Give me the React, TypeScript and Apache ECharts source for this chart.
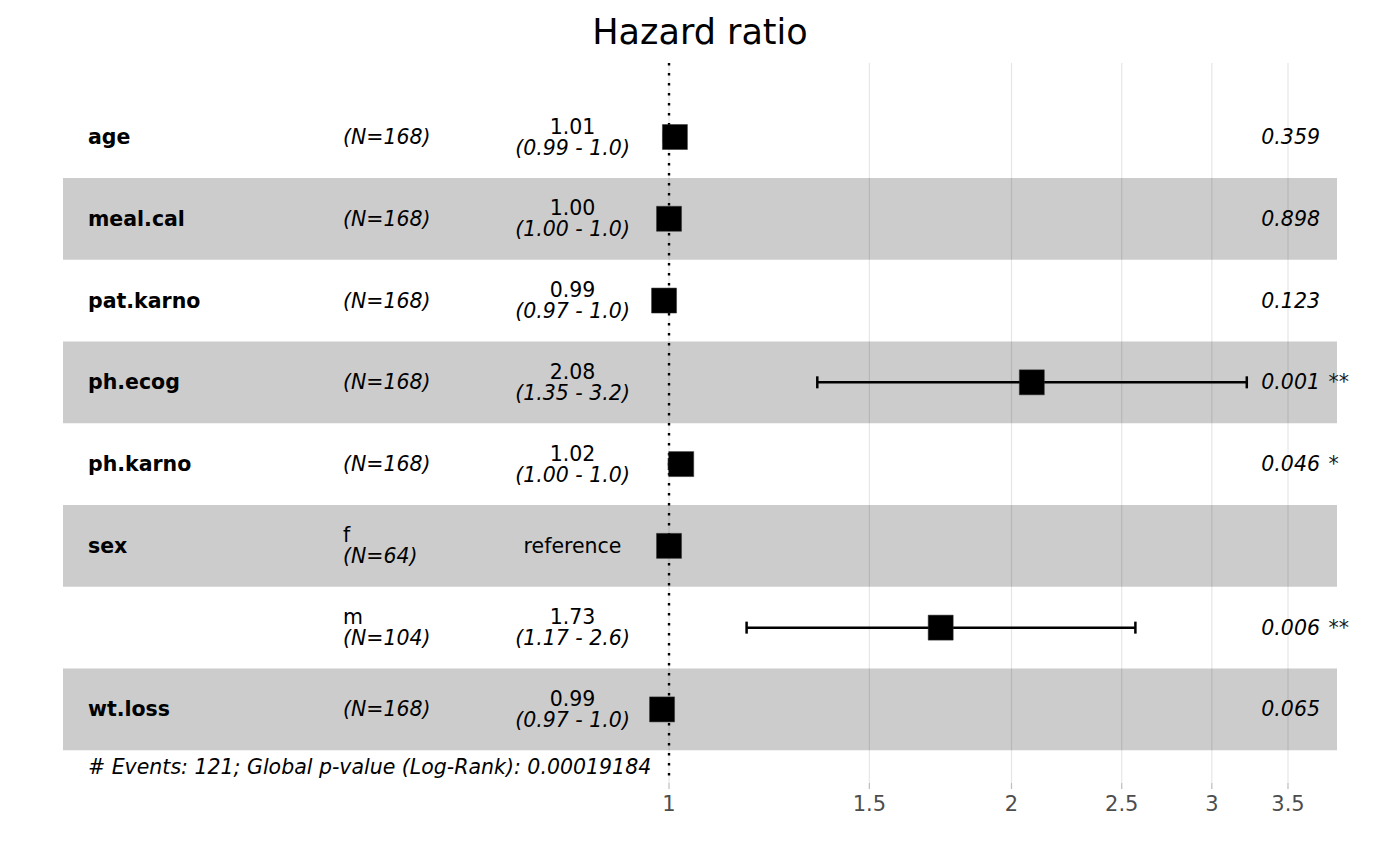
import React, { useEffect, useRef } from "react";
import * as echarts from "echarts";

// ---- data ----
const ROW_VARS = ["age", "meal.cal", "pat.karno", "ph.ecog", "ph.karno", "sex", "", "wt.loss"];
const ROW_LEVELS = ["", "", "", "", "", "f", "m", ""];
const ROW_N = [168, 168, 168, 168, 168, 64, 104, 168];
const HR = [1.012, 1.0, 0.99, 2.084, 1.025, 1.0, 1.733, 0.986];
const CI_LOW: (number | null)[] = [0.99, 1.0, 0.97, 1.35, 1.0, null, 1.17, 0.97];
const CI_HIGH: (number | null)[] = [1.03, 1.0, 1.0, 3.22, 1.04, null, 2.57, 1.0];
const P_VALUES = ["0.359", "0.898", "0.123", "0.001", "0.046", "", "0.006", "0.065"];
const P_STARS = ["", "", "", "**", "*", "", "**", ""];
const X_TICKS = [1, 1.5, 2, 2.5, 3, 3.5];
const BAND_ROWS = [2, 4, 6, 8];
const TITLE = "Hazard ratio";
const FOOTNOTE = "# Events: 121; Global p-value (Log-Rank): 0.00019184";

// ---- layout (axis units) ----
const X_MIN = 0.2933;
const X_MAX = 3.865;
const Y_MIN = 0.095;
const Y_MAX = 8.9;
const COL_VAR = 0.3085;
const COL_LEVEL = 0.5169;
const COL_EST = 0.8226;
const COL_P = 3.734;
const COL_STAR = 3.80;
const FOOT_ROW = 8.706;

const FONT = "DejaVu Sans";
const FS = 20.5;
const LH = 21;

function txt(x: number, y: number, text: string, opts: any = {}) {
  return {
    type: "text",
    x,
    y,
    style: {
      text,
      fill: opts.fill || "#000000",
      fontSize: opts.fontSize || FS,
      fontFamily: FONT,
      fontStyle: opts.italic ? "italic" : "normal",
      fontWeight: opts.bold ? "bold" : "normal",
      align: opts.align || "left",
      verticalAlign: "middle",
    },
  };
}

// two-line label: first line normal, second italic, as one text element
function txt2(x: number, y: number, line1: string, line2: string, align: string) {
  return {
    type: "text",
    x,
    y,
    style: {
      text: "{a|" + line1 + "}\n{b|" + line2 + "}",
      fill: "#000000",
      fontSize: FS,
      fontFamily: FONT,
      align,
      verticalAlign: "middle",
      lineHeight: LH,
      rich: {
        a: { fontSize: FS, fontFamily: FONT, fontStyle: "normal", lineHeight: LH, fill: "#000000", align },
        b: { fontSize: FS, fontFamily: FONT, fontStyle: "italic", lineHeight: LH, fill: "#000000", align },
      },
    },
  };
}

export default function App() {
  const ref = useRef<HTMLDivElement>(null);

  useEffect(() => {
    if (!ref.current) return;
    const chart = echarts.init(ref.current, undefined, { renderer: "svg" });
    const rows = ROW_VARS.map((_, i) => i + 1);

    const option: any = {
      animation: false,
      backgroundColor: "#ffffff",
      title: {
        text: TITLE,
        left: "center",
        top: 9,
        textStyle: { fontFamily: FONT, fontSize: 35, fontWeight: "normal", color: "#000000" },
      },
      grid: { left: 63, right: 63, top: 63, bottom: 83 },
      xAxis: {
        type: "log",
        logBase: 10,
        min: X_MIN,
        max: X_MAX,
        show: false,
        splitLine: { show: false },
      },
      yAxis: {
        type: "value",
        inverse: true,
        min: Y_MIN,
        max: Y_MAX,
        show: false,
        splitLine: { show: false },
      },
      series: [
        {
          type: "custom",
          z: 1,
          silent: true,
          data: BAND_ROWS.map((r) => [X_MIN, r]),
          renderItem: (params: any, api: any) => {
            const r = api.value(1);
            const p0 = api.coord([X_MIN, r - 0.5]);
            const p1 = api.coord([X_MAX, r + 0.5]);
            return {
              type: "rect",
              shape: { x: p0[0], y: Math.min(p0[1], p1[1]), width: p1[0] - p0[0], height: Math.abs(p1[1] - p0[1]) },
              style: { fill: "#CCCCCC" },
            };
          },
        },
        {
          type: "custom",
          z: 2,
          silent: true,
          data: X_TICKS.map((t) => [t, 1]),
          renderItem: (params: any, api: any) => {
            const t = api.value(0);
            const top = api.coord([t, Y_MIN]);
            const bot = api.coord([t, Y_MAX]);
            return {
              type: "group",
              children: [
                {
                  type: "line",
                  shape: { x1: top[0], y1: top[1], x2: bot[0], y2: bot[1] },
                  style: { stroke: "rgba(0,0,0,0.1)", lineWidth: 1.2 },
                },
                {
                  type: "line",
                  shape: { x1: bot[0], y1: bot[1], x2: bot[0], y2: bot[1] + 6 },
                  style: { stroke: "#BDBDBD", lineWidth: 1.2 },
                },
                txt(bot[0], bot[1] + 21, String(X_TICKS[params.dataIndex]), {
                  align: "center",
                  fill: "#4D4D4D",
                  fontSize: 21,
                }),
              ],
            };
          },
        },
        {
          type: "custom",
          z: 3,
          silent: true,
          data: [[1, 1]],
          renderItem: (params: any, api: any) => {
            const top = api.coord([1, Y_MIN]);
            const bot = api.coord([1, Y_MAX]);
            return {
              type: "line",
              shape: { x1: top[0], y1: top[1], x2: bot[0], y2: bot[1] },
              style: { stroke: "#000000", lineWidth: 2.4, lineDash: [2.5, 7.5] },
            };
          },
        },
        {
          type: "custom",
          z: 4,
          silent: true,
          data: rows
            .map((r, i) => (CI_LOW[i] != null ? [CI_LOW[i], r, CI_HIGH[i]] : null))
            .filter((d) => d !== null),
          renderItem: (params: any, api: any) => {
            const lo = api.value(0);
            const r = api.value(1);
            const hi = api.value(2);
            const a = api.coord([lo, r]);
            const b = api.coord([hi, r]);
            const cap = 6;
            return {
              type: "group",
              children: [
                { type: "line", shape: { x1: a[0], y1: a[1], x2: b[0], y2: b[1] }, style: { stroke: "#000", lineWidth: 2.5 } },
                { type: "line", shape: { x1: a[0], y1: a[1] - cap, x2: a[0], y2: a[1] + cap }, style: { stroke: "#000", lineWidth: 2.5 } },
                { type: "line", shape: { x1: b[0], y1: b[1] - cap, x2: b[0], y2: b[1] + cap }, style: { stroke: "#000", lineWidth: 2.5 } },
              ],
            };
          },
        },
        {
          type: "scatter",
          z: 5,
          silent: true,
          symbol: "rect",
          symbolSize: 25,
          itemStyle: { color: "#000000", opacity: 1, borderColor: "#333333", borderWidth: 0.5 },
          data: HR.map((v, i) => [v, rows[i]]),
        },
        {
          type: "custom",
          z: 6,
          silent: true,
          data: rows.map((r) => [1, r]),
          renderItem: (params: any, api: any) => {
            const i = params.dataIndex;
            const r = api.value(1);
            const y = api.coord([1, r])[1];
            const xVar = api.coord([COL_VAR, r])[0];
            const xLev = api.coord([COL_LEVEL, r])[0];
            const xEst = api.coord([COL_EST, r])[0];
            const xP = api.coord([COL_P, r])[0];
            const xS = api.coord([COL_STAR, r])[0];
            const children: any[] = [];
            if (ROW_VARS[i]) children.push(txt(xVar, y, ROW_VARS[i], { bold: true }));
            const nLabel = "(N=" + ROW_N[i] + ")";
            if (ROW_LEVELS[i]) {
              children.push(txt2(xLev, y, ROW_LEVELS[i], nLabel, "left"));
            } else {
              children.push(txt(xLev, y, nLabel, { italic: true }));
            }
            const lo = CI_LOW[i];
            const hi = CI_HIGH[i];
            if (lo == null || hi == null) {
              children.push(txt(xEst, y, "reference", { align: "center" }));
            } else {
              children.push(
                txt2(xEst, y, HR[i].toFixed(2), "(" + lo.toFixed(2) + " - " + hi.toFixed(1) + ")", "center")
              );
            }
            if (P_VALUES[i]) children.push(txt(xP, y, P_VALUES[i], { align: "right", italic: true }));
            if (P_STARS[i]) children.push(txt(xS, y, P_STARS[i], { italic: true, fill: "#1a1a1a" }));
            return { type: "group", children };
          },
        },
        {
          type: "custom",
          z: 6,
          silent: true,
          data: [[COL_VAR, FOOT_ROW]],
          renderItem: (params: any, api: any) => {
            const p = api.coord([api.value(0), api.value(1)]);
            return txt(p[0], p[1], FOOTNOTE, { italic: true });
          },
        },
      ],
    };

    chart.setOption(option);
    return () => chart.dispose();
  }, []);

  return (
    <div
      ref={ref}
      style={{ position: "fixed", left: 0, top: 0, width: 1400, height: 866, background: "#fff" }}
    />
  );
}
